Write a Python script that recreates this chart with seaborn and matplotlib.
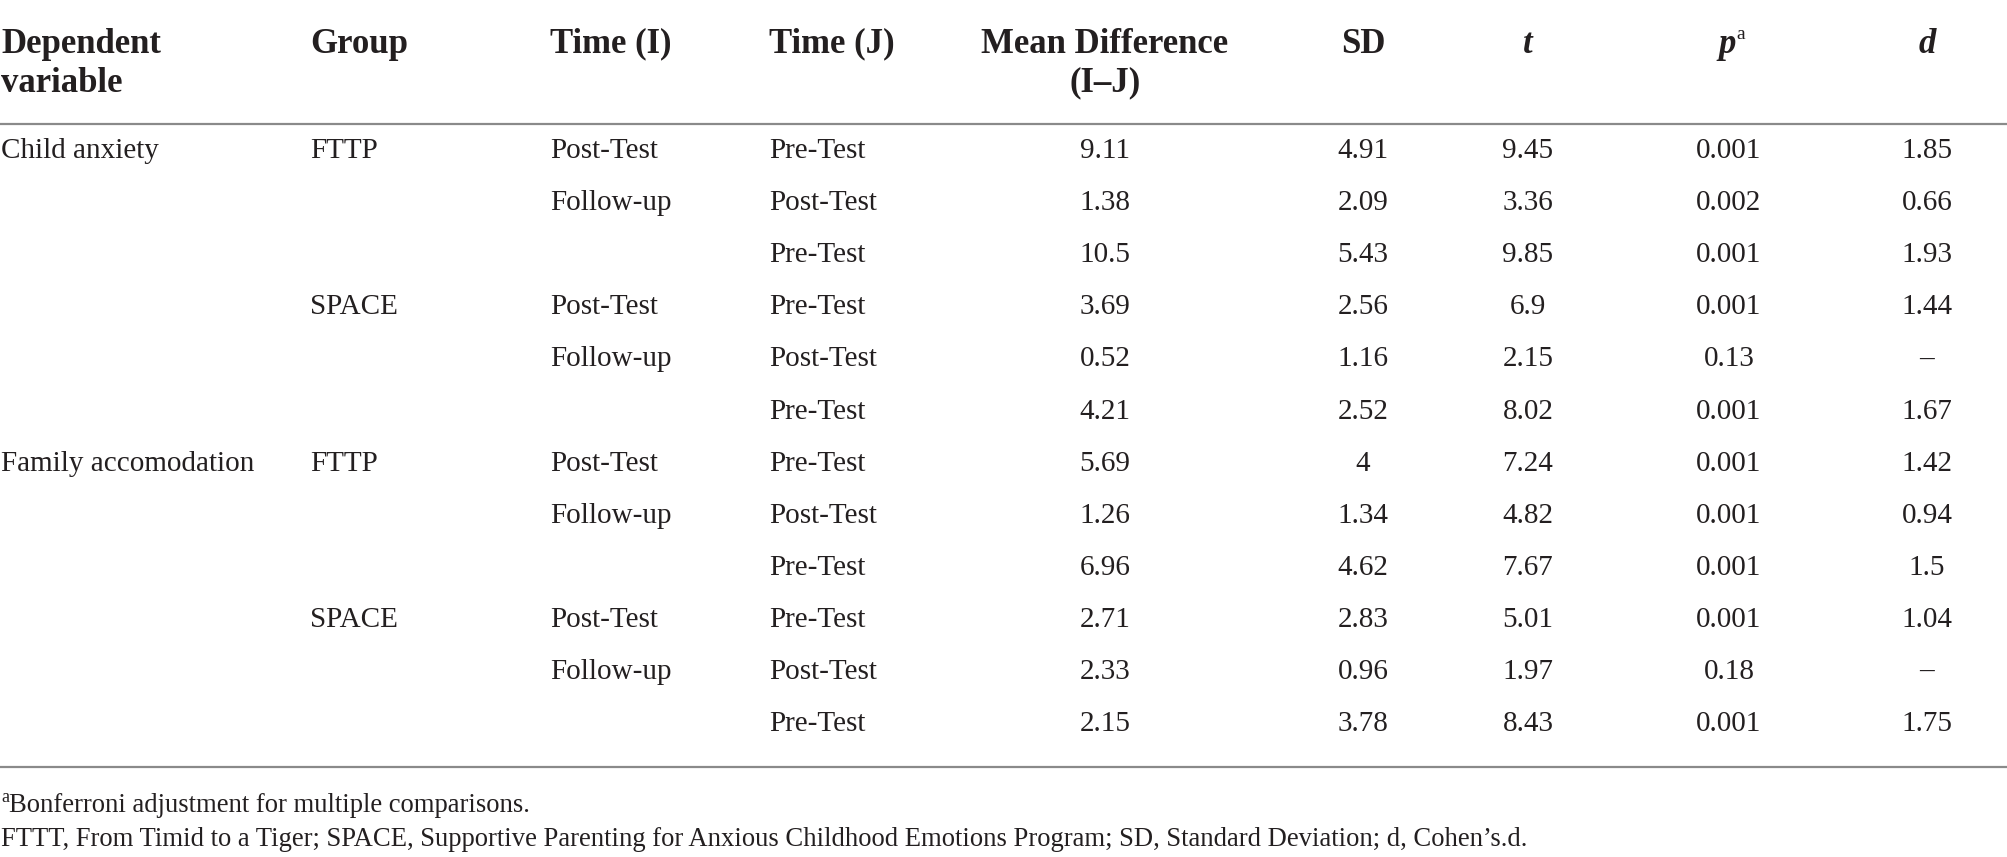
import matplotlib
matplotlib.use("Agg")
import numpy as np
import pandas as pd
import seaborn as sns
from matplotlib import pyplot as plt

# table content
dependent = ["Child anxiety", "", "", "", "", "",
             "Family accomodation", "", "", "", "", ""]
group = ["FTTP", "", "", "SPACE", "", "",
         "FTTP", "", "", "SPACE", "", ""]
time_i = ["Post-Test", "Follow-up", "", "Post-Test", "Follow-up", ""] * 2
time_j = ["Pre-Test", "Post-Test", "Pre-Test", "Pre-Test", "Post-Test", "Pre-Test"] * 2
mean_diff = [9.11, 1.38, 10.5, 3.69, 0.52, 4.21, 5.69, 1.26, 6.96, 2.71, 2.33, 2.15]
sd = [4.91, 2.09, 5.43, 2.56, 1.16, 2.52, 4, 1.34, 4.62, 2.83, 0.96, 3.78]
t_val = [9.45, 3.36, 9.85, 6.9, 2.15, 8.02, 7.24, 4.82, 7.67, 5.01, 1.97, 8.43]
p_val = [0.001, 0.002, 0.001, 0.001, 0.13, 0.001, 0.001, 0.001, 0.001, 0.001, 0.18, 0.001]
d_val = [1.85, 0.66, 1.93, 1.44, None, 1.67, 1.42, 0.94, 1.5, 1.04, None, 1.75]

footnote_a = "Bonferroni adjustment for multiple comparisons."
footnote_b = ("FTTT, From Timid to a Tiger; SPACE, Supportive Parenting for Anxious "
              "Childhood Emotions Program; SD, Standard Deviation; d, Cohen\u2019s.d.")


def fmt(v):
    return "\u2013" if v is None else f"{v:g}"


df = pd.DataFrame({
    "dep": dependent, "group": group, "ti": time_i, "tj": time_j,
    "md": [fmt(v) for v in mean_diff], "sd": [fmt(v) for v in sd],
    "t": [fmt(v) for v in t_val], "p": [fmt(v) for v in p_val],
    "d": [fmt(v) for v in d_val],
})

sns.set_theme(style="white")
plt.rcParams["font.family"] = ["Liberation Serif", "DejaVu Serif"]

W, H = 2008, 857
fig = plt.figure(figsize=(W / 100, H / 100), dpi=100)
ax = fig.add_axes([0, 0, 1, 1])
ax.set_xlim(0, W)
ax.set_ylim(H, 0)
ax.axis("off")

ink = "#231f20"
rule = "#8a8a8a"
body = 21
head = 25

# columns: (key, x, align)
cols = [("dep", 1, "left"), ("group", 310, "left"), ("ti", 550, "left"),
        ("tj", 769, "left"), ("md", 1105, "center"), ("sd", 1363, "center"),
        ("t", 1528, "center"), ("p", 1729, "center"), ("d", 1927, "center")]

# header
h1, h2 = 44, 83
hb = dict(fontsize=head, fontweight="bold", color=ink, va="center")
ax.text(1, h1, "Dependent", ha="left", **hb)
ax.text(1, h2, "variable", ha="left", **hb)
ax.text(310, h1, "Group", ha="left", **hb)
ax.text(550, h1, "Time (I)", ha="left", **hb)
ax.text(769, h1, "Time (J)", ha="left", **hb)
ax.text(1105, h1, "Mean Difference", ha="center", **hb)
ax.text(1105, h2, "(I\u2013J)", ha="center", **hb)
ax.text(1363, h1, "SD", ha="center", **hb)
ax.text(1528, h1, "t", ha="center", fontstyle="italic", **hb)
ax.text(1727, h1, "p", ha="center", fontstyle="italic", **hb)
ax.text(1736, h1 - 10, "a", ha="left", fontsize=14, color=ink, va="center")
ax.text(1927, h1, "d", ha="center", fontstyle="italic", **hb)

ax.axhline(124, color=rule, lw=1.6)

# body rows
row_y = 151 + 52.1 * np.arange(len(df))
for y, (_, row) in zip(row_y, df.iterrows()):
    for key, x, ha in cols:
        ax.text(x, y, row[key], ha=ha, va="center", fontsize=body, color=ink)

ax.axhline(767, color=rule, lw=1.6)

# footnotes
ax.text(1, 797, "a", ha="left", va="center", fontsize=13, color=ink)
ax.text(9, 806, footnote_a, ha="left", va="center", fontsize=19.2, color=ink)
ax.text(1, 839, footnote_b, ha="left", va="center", fontsize=19.2, color=ink)

fig.savefig("out.png", dpi=100, facecolor="white")
